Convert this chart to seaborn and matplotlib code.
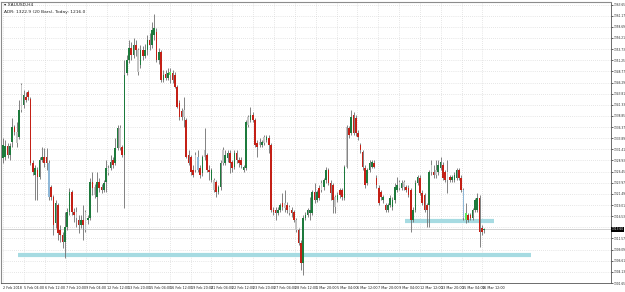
import numpy as np
import pandas as pd
import matplotlib
matplotlib.use("Agg")
import matplotlib.pyplot as plt
import seaborn as sns

# XAUUSD H4 candles
opens = [
    1329.5, 1329.7, 1332.2, 1330.2, 1333.0, 1336.4, 1332.8, 1334.2, 1340.2, 1341.3,
    1343.0, 1344.2, 1342.6, 1328.4, 1325.7, 1326.8, 1325.3, 1329.0, 1329.7, 1329.7,
    1328.4, 1323.0, 1320.8, 1315.0, 1319.0, 1313.5, 1312.4, 1310.8, 1314.2, 1317.5,
    1321.9, 1317.5, 1317.5, 1315.7, 1314.6, 1315.7, 1317.5, 1315.7, 1316.2, 1324.2,
    1323.0, 1320.8, 1324.2, 1323.0, 1322.4, 1324.2, 1327.3, 1327.3, 1329.0, 1328.4,
    1331.7, 1336.2, 1331.9, 1330.2, 1348.4, 1351.3, 1353.9, 1352.4, 1354.6, 1353.5,
    1350.2, 1353.5, 1352.2, 1353.5, 1355.7, 1354.6, 1356.8, 1357.5, 1351.3, 1353.0,
    1346.8, 1348.2, 1347.3, 1347.9, 1348.4, 1347.9, 1345.3, 1341.7, 1339.9, 1338.6,
    1337.9, 1330.2, 1329.7, 1326.8, 1330.2, 1329.7, 1327.3, 1326.2, 1329.7, 1330.2,
    1326.8, 1324.6, 1324.6, 1324.2, 1321.9, 1323.0, 1328.4, 1328.4, 1329.5, 1330.6,
    1328.6, 1327.5, 1330.6, 1329.0, 1329.0, 1326.8, 1327.3, 1336.8, 1337.9, 1339.0,
    1337.9, 1332.8, 1332.4, 1332.4, 1332.8, 1333.5, 1333.9, 1332.4, 1317.9, 1317.9,
    1317.3, 1317.9, 1319.5, 1319.5, 1319.0, 1318.6, 1317.9, 1317.5, 1315.7, 1313.5,
    1310.6, 1306.2, 1316.2, 1316.8, 1317.3, 1317.3, 1321.9, 1320.2, 1322.8, 1322.4,
    1323.0, 1324.6, 1326.8, 1323.9, 1323.5, 1320.8, 1320.2, 1322.4, 1322.4, 1320.6,
    1327.5, 1336.2, 1335.0, 1339.0, 1338.4, 1335.0, 1332.4, 1330.8, 1327.3, 1323.9,
    1326.8, 1327.5, 1328.4, 1325.0, 1322.8, 1321.9, 1320.2, 1319.0, 1317.9, 1319.0,
    1318.6, 1320.2, 1322.4, 1322.8, 1322.8, 1323.0, 1323.0, 1322.8, 1322.4, 1315.7,
    1317.9, 1323.9, 1325.0, 1321.7, 1321.3, 1319.0, 1319.0, 1326.4, 1326.4, 1326.8,
    1326.4, 1327.3, 1327.9, 1326.4, 1326.4, 1325.3, 1324.6, 1324.6, 1325.0, 1326.8,
    1325.0, 1322.4, 1315.7, 1316.8, 1316.8, 1316.2, 1317.9, 1317.9, 1320.6, 1313.9,
    1313.5]
highs = [
    1333.9, 1333.5, 1332.8, 1332.8, 1338.4, 1336.8, 1337.5, 1342.4, 1346.2, 1344.6,
    1344.2, 1344.6, 1343.0, 1329.0, 1327.9, 1327.5, 1329.7, 1331.9, 1331.7, 1331.7,
    1329.0, 1323.5, 1321.3, 1320.2, 1319.5, 1314.6, 1313.0, 1317.5, 1318.4, 1322.8,
    1322.4, 1318.4, 1318.6, 1316.8, 1316.8, 1319.0, 1317.9, 1316.8, 1325.0, 1326.4,
    1323.7, 1326.4, 1325.0, 1323.7, 1324.6, 1329.0, 1327.9, 1330.2, 1329.7, 1333.9,
    1336.8, 1336.8, 1332.4, 1351.3, 1352.4, 1355.7, 1355.3, 1356.2, 1355.7, 1353.9,
    1354.6, 1354.4, 1354.8, 1356.8, 1357.3, 1359.7, 1361.5, 1358.4, 1353.9, 1353.5,
    1349.0, 1349.0, 1349.5, 1349.5, 1349.0, 1348.6, 1345.7, 1342.4, 1340.6, 1343.0,
    1338.4, 1331.3, 1330.2, 1327.9, 1330.8, 1331.3, 1327.9, 1330.2, 1336.2, 1330.6,
    1327.9, 1327.3, 1325.0, 1324.6, 1323.5, 1329.0, 1331.9, 1331.3, 1331.3, 1331.3,
    1329.0, 1331.3, 1331.3, 1329.7, 1329.7, 1327.9, 1337.9, 1339.0, 1340.8, 1339.7,
    1338.4, 1333.5, 1333.9, 1333.5, 1334.6, 1334.6, 1334.6, 1332.8, 1318.6, 1318.6,
    1318.6, 1319.5, 1321.7, 1322.4, 1319.7, 1319.0, 1318.6, 1317.9, 1316.2, 1313.9,
    1311.3, 1316.8, 1317.5, 1318.4, 1320.8, 1322.4, 1323.9, 1322.4, 1323.5, 1324.6,
    1325.0, 1327.5, 1327.3, 1324.6, 1323.9, 1321.3, 1321.9, 1322.8, 1322.8, 1327.9,
    1336.8, 1336.6, 1340.2, 1339.7, 1339.0, 1335.7, 1332.8, 1331.3, 1327.9, 1327.3,
    1329.0, 1329.0, 1329.0, 1325.7, 1323.5, 1322.4, 1321.3, 1319.5, 1319.5, 1321.3,
    1320.8, 1323.9, 1325.3, 1324.6, 1324.6, 1324.6, 1323.5, 1323.5, 1322.8, 1318.6,
    1324.6, 1325.7, 1325.7, 1322.4, 1321.7, 1319.5, 1326.8, 1329.0, 1327.9, 1329.0,
    1329.0, 1329.7, 1328.6, 1326.8, 1329.0, 1325.7, 1325.7, 1326.4, 1327.3, 1327.3,
    1325.7, 1322.8, 1319.5, 1317.3, 1317.3, 1318.4, 1320.6, 1321.7, 1321.3, 1314.6,
    1313.9]
lows = [
    1328.4, 1329.0, 1329.5, 1329.0, 1331.9, 1334.6, 1331.9, 1333.7, 1339.7, 1340.6,
    1341.9, 1342.4, 1327.9, 1325.7, 1320.2, 1320.2, 1324.8, 1328.6, 1327.5, 1326.8,
    1320.2, 1320.2, 1312.4, 1313.9, 1311.3, 1310.8, 1309.5, 1307.3, 1313.5, 1316.8,
    1316.8, 1315.3, 1314.2, 1312.8, 1313.9, 1311.3, 1313.0, 1314.8, 1315.7, 1321.3,
    1320.6, 1317.5, 1321.9, 1321.7, 1321.9, 1321.9, 1325.7, 1326.8, 1327.3, 1327.9,
    1331.3, 1331.3, 1329.7, 1318.4, 1347.9, 1350.6, 1351.3, 1351.7, 1352.2, 1347.9,
    1349.5, 1351.3, 1351.7, 1352.4, 1353.5, 1353.9, 1355.7, 1350.8, 1350.4, 1346.4,
    1346.4, 1346.8, 1346.8, 1346.2, 1346.2, 1345.0, 1340.6, 1337.9, 1337.9, 1336.4,
    1329.5, 1327.9, 1325.7, 1325.3, 1326.4, 1326.4, 1325.0, 1325.5, 1329.0, 1326.4,
    1324.6, 1324.2, 1321.9, 1320.8, 1321.5, 1322.4, 1327.9, 1327.9, 1328.6, 1326.2,
    1326.4, 1327.0, 1328.4, 1327.5, 1327.3, 1326.4, 1326.8, 1336.4, 1337.5, 1337.5,
    1331.9, 1329.7, 1331.9, 1331.9, 1332.4, 1333.0, 1330.6, 1317.5, 1316.8, 1315.7,
    1316.8, 1317.5, 1317.9, 1317.5, 1317.3, 1316.8, 1316.4, 1315.3, 1313.0, 1310.2,
    1304.6, 1303.5, 1315.7, 1316.4, 1315.7, 1316.8, 1319.5, 1319.7, 1320.2, 1321.9,
    1322.4, 1323.9, 1323.5, 1320.2, 1317.3, 1317.3, 1319.7, 1320.6, 1320.2, 1320.2,
    1327.3, 1333.9, 1334.6, 1334.6, 1334.4, 1333.5, 1330.6, 1326.8, 1322.8, 1323.5,
    1326.4, 1327.3, 1327.3, 1322.8, 1319.0, 1320.2, 1319.5, 1317.5, 1317.5, 1318.6,
    1317.9, 1319.5, 1321.9, 1322.4, 1322.4, 1322.4, 1321.9, 1320.8, 1313.0, 1315.3,
    1317.5, 1323.5, 1321.3, 1319.0, 1317.5, 1314.2, 1314.2, 1325.7, 1325.0, 1325.0,
    1325.7, 1326.8, 1324.6, 1324.2, 1321.7, 1324.2, 1324.2, 1324.2, 1324.6, 1324.6,
    1321.9, 1315.7, 1315.0, 1315.3, 1315.7, 1315.7, 1317.5, 1317.5, 1309.7, 1312.4,
    1312.8]
closes = [
    1332.4, 1332.2, 1330.2, 1332.2, 1336.4, 1335.3, 1335.3, 1340.2, 1345.7, 1343.5,
    1342.4, 1343.0, 1328.4, 1326.4, 1327.3, 1325.3, 1329.0, 1329.7, 1328.4, 1328.4,
    1320.8, 1320.8, 1314.6, 1319.5, 1312.8, 1312.4, 1310.8, 1314.2, 1317.5, 1321.9,
    1317.5, 1316.8, 1316.2, 1314.6, 1315.7, 1314.6, 1313.5, 1316.2, 1324.2, 1322.8,
    1321.3, 1324.2, 1322.8, 1322.4, 1323.9, 1327.3, 1326.2, 1328.6, 1327.9, 1331.7,
    1336.2, 1331.7, 1330.2, 1347.9, 1351.3, 1353.9, 1352.4, 1354.6, 1353.5, 1348.6,
    1353.5, 1352.2, 1353.5, 1355.7, 1354.6, 1357.9, 1358.4, 1351.3, 1353.0, 1346.8,
    1347.9, 1347.3, 1348.4, 1348.6, 1346.8, 1345.3, 1340.8, 1338.6, 1338.6, 1340.2,
    1329.7, 1328.4, 1326.4, 1325.7, 1326.8, 1326.8, 1325.7, 1329.7, 1331.3, 1326.8,
    1326.4, 1326.8, 1322.4, 1321.9, 1323.0, 1328.4, 1331.3, 1330.2, 1330.6, 1328.4,
    1327.3, 1330.6, 1329.0, 1328.4, 1327.9, 1327.5, 1337.5, 1338.6, 1339.0, 1337.9,
    1332.4, 1331.9, 1333.0, 1333.0, 1334.2, 1334.2, 1332.4, 1317.9, 1317.5, 1317.3,
    1317.9, 1319.0, 1318.6, 1318.4, 1317.9, 1317.3, 1317.3, 1315.7, 1313.5, 1310.6,
    1306.2, 1316.2, 1316.8, 1317.9, 1317.9, 1321.9, 1320.2, 1321.9, 1320.6, 1323.9,
    1324.6, 1326.8, 1323.9, 1321.7, 1320.2, 1318.6, 1321.3, 1321.3, 1320.8, 1327.5,
    1336.4, 1334.6, 1338.6, 1335.0, 1335.0, 1334.2, 1331.3, 1327.5, 1323.5, 1326.8,
    1328.4, 1328.6, 1327.5, 1323.5, 1319.5, 1320.8, 1320.8, 1317.9, 1319.0, 1320.6,
    1320.2, 1323.0, 1323.5, 1324.2, 1323.9, 1324.2, 1322.4, 1321.3, 1315.7, 1317.9,
    1323.9, 1325.3, 1321.7, 1319.5, 1317.9, 1317.9, 1326.4, 1327.9, 1325.7, 1325.7,
    1327.9, 1328.6, 1325.0, 1324.6, 1324.6, 1324.6, 1325.3, 1325.7, 1326.8, 1325.0,
    1322.4, 1316.2, 1317.3, 1315.7, 1316.2, 1317.9, 1320.2, 1320.6, 1313.0, 1313.0,
    1313.6]

# candles painted in other colours on the screenshot (bar numbers)
gray_bars = [6, 8, 32, 36, 40, 46, 51, 59, 79, 84, 88, 92, 96, 107, 112, 114, 123,
             125, 128, 139, 145, 150, 173, 175, 187, 189, 194]
blue_bars = [20, 85, 201]
lime_bars = [73, 202]

price_ticks = [1363.65, 1361.17, 1358.69, 1356.21, 1353.73, 1351.25, 1348.77, 1346.29,
               1343.81, 1341.33, 1338.85, 1336.37, 1333.89, 1331.41, 1328.93, 1326.45,
               1323.97, 1321.49, 1319.01, 1316.53, 1314.05, 1311.57, 1309.09, 1306.61,
               1304.13, 1301.65]
date_labels = ["2 Feb 2018", "5 Feb 04:00", "6 Feb 12:00", "7 Feb 20:00", "9 Feb 04:00",
               "12 Feb 12:00", "13 Feb 20:00", "15 Feb 04:00", "16 Feb 12:00", "19 Feb 20:00",
               "21 Feb 04:00", "22 Feb 12:00", "23 Feb 20:00", "27 Feb 04:00", "28 Feb 12:00",
               "1 Mar 20:00", "5 Mar 04:00", "6 Mar 12:00", "7 Mar 20:00", "9 Mar 04:00",
               "12 Mar 12:00", "13 Mar 20:00", "15 Mar 04:00", "16 Mar 12:00"]

# horizontal support zones drawn on the chart (price, first bar, last bar)
zone_price = [1307.8, 1315.5]
zone_start = [6.4, 175.6]
zone_end = [230.4, 214.4]

df = pd.DataFrame({"open": opens, "high": highs, "low": lows, "close": closes})
df["bar"] = np.arange(len(df))
df["up"] = df["close"] >= df["open"]
df["color"] = np.where(df["up"], "#1d7a3c", "#c42016")
df.loc[gray_bars, "color"] = "#c4c4c4"
df.loc[blue_bars, "color"] = "#8fb8d8"
df.loc[lime_bars, "color"] = "#5ee85e"
bid = closes[-1]

sns.set_theme(style="white")
plt.rcParams["font.family"] = ["DejaVu Sans"]

fig = plt.figure(figsize=(6.25, 2.92), dpi=100)
ax = fig.add_axes([0.0016, 0.0308, 0.976, 0.962])

ax.set_xlim(-0.87, 265.4)
ax.set_ylim(1301.8, 1364.2)

date_pos = np.arange(len(date_labels)) * 9.1
grid_kw = dict(color="#cfcfcf", lw=0.5, linestyle=(0, (1, 2)), zorder=0)
for p in date_pos:
    ax.axvline(p, **grid_kw)
for p in price_ticks:
    ax.axhline(p, **grid_kw)

# support zones
for lvl, a, b in zip(zone_price, zone_start, zone_end):
    ax.hlines(lvl, a, b, color="#a6dbe2", lw=3.0, zorder=1)

# bid line
ax.axhline(bid, color="#c8c8c8", lw=0.6, zorder=1)

# candles
ax.vlines(df["bar"], df["low"], df["high"], color="#6e6e6e", lw=0.6, zorder=3)
body_low = df[["open", "close"]].min(axis=1)
body_h = (df["open"] - df["close"]).abs().clip(lower=0.2)
ax.bar(df["bar"], body_h, bottom=body_low, width=0.7, color=df["color"],
       edgecolor="none", zorder=4)

# axes look
for side in ["left", "top"]:
    ax.spines[side].set_color("#8c8c8c")
    ax.spines[side].set_linewidth(0.8)
for side in ["right", "bottom"]:
    ax.spines[side].set_color("#555555")
    ax.spines[side].set_linewidth(0.6)

shown = [p for p in price_ticks if abs(p - bid) > 1.4]
ax.yaxis.tick_right()
ax.set_yticks(shown)
ax.set_yticklabels([f"{p:.2f}" for p in shown])
ax.tick_params(axis="y", direction="out", length=1.2, width=0.5, labelsize=2.1,
               pad=0.4, colors="#222222")

ax.set_xticks(date_pos)
ax.set_xticklabels(date_labels, ha="left")
ax.tick_params(axis="x", direction="out", length=1.5, width=0.5, labelsize=2.4,
               pad=0.4, colors="#222222")
ax.set_xlabel("")
ax.set_ylabel("")

ax.text(1.001, bid, f"{bid:.2f}", transform=ax.get_yaxis_transform(),
        ha="left", va="center", fontsize=2.1, color="white", clip_on=False,
        bbox=dict(boxstyle="square,pad=0.2", fc="black", ec="none"))

fig.text(0.006, 0.982, "\u25be XAUUSD,H4", fontsize=3.2, color="#222222",
         ha="left", va="center")
fig.text(0.006, 0.96, "ADR: 1322.9 (20 Bars), Today: 1216.0", fontsize=3.2,
         color="#222222", ha="left", va="center")

fig.savefig("out.png", dpi=100)
